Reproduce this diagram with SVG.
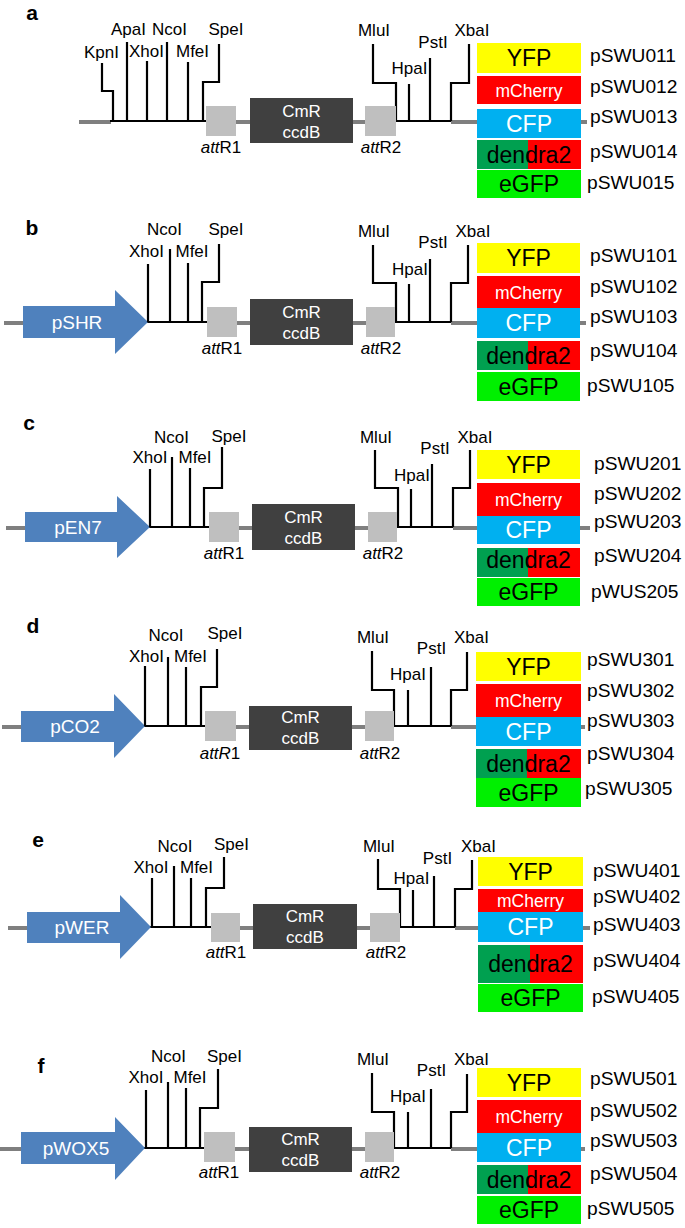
<svg xmlns="http://www.w3.org/2000/svg" width="685" height="1228" viewBox="0 0 685 1228">
<style>
text{font-family:"Liberation Sans",Arial,sans-serif;}
.pl{font-size:21px;font-weight:bold;text-anchor:middle;fill:#000;}
.bb{stroke:#7f7f7f;stroke-width:4;fill:none;}
.bk{stroke:#000;stroke-width:2.2;fill:none;}
.enz{font-size:17px;text-anchor:middle;fill:#000;}
.att{font-size:17px;text-anchor:middle;fill:#000;}
.attbox{fill:#bfbfbf;}
.cmr{fill:#404040;}
.cmrt{font-size:17px;text-anchor:middle;fill:#fff;}
.arrow{fill:#4f81bd;}
.prom{font-size:19px;text-anchor:middle;fill:#fff;}
.yfp{fill:#ffff00;}
.mch{fill:#ff0000;}
.cfp{fill:#00b0f0;}
.dgr{fill:#00a050;}
.egfp{fill:#00f000;}
.fb{font-size:23px;text-anchor:middle;fill:#000;}
.fw{font-size:23px;text-anchor:middle;fill:#fff;}
.fm{font-size:17.5px;text-anchor:middle;fill:#fff;}
.pn{font-size:19.2px;fill:#000;}
</style>

<!-- ===================== PANEL A ===================== -->
<g id="panel-a">
<text class="pl" x="32" y="20">a</text>
<g id="a-connectors">
<line class="bb" x1="79" y1="122" x2="111" y2="122"/>
<line class="bb" x1="236" y1="122" x2="250" y2="122"/>
<line class="bb" x1="353" y1="122" x2="365" y2="122"/>
<line class="bb" x1="451" y1="122" x2="477" y2="122"/>
<line class="bb" x1="581" y1="122" x2="587" y2="122"/>
<line class="bk" x1="110" y1="121" x2="206" y2="121"/>
<line class="bk" x1="396" y1="121" x2="451" y2="121"/>
</g>
<g id="a-sites">
<path class="bk" d="M113,121V91H102V63"/>
<path class="bk" d="M127,121V42"/>
<path class="bk" d="M147,121V61"/>
<path class="bk" d="M167,121V42"/>
<path class="bk" d="M188,121V62"/>
<path class="bk" d="M203,121V82H219V44"/>
<path class="bk" d="M396,121V83H373V44"/>
<path class="bk" d="M409,121V84"/>
<path class="bk" d="M430,121V58"/>
<path class="bk" d="M451,121V83H469V44"/>
<text class="enz" x="101.5" y="58">KpnI</text>
<text class="enz" x="128.5" y="35">ApaI</text>
<text class="enz" x="146.5" y="57">XhoI</text>
<text class="enz" x="169.5" y="35">NcoI</text>
<text class="enz" x="192.5" y="57">MfeI</text>
<text class="enz" x="226" y="35">SpeI</text>
<text class="enz" x="374" y="36">MluI</text>
<text class="enz" x="409.5" y="74">HpaI</text>
<text class="enz" x="433" y="48">PstI</text>
<text class="enz" x="472" y="36">XbaI</text>
</g>
<g id="a-attR1"><rect class="attbox" x="206" y="106" width="30" height="30"/><text class="att" x="221" y="153"><tspan font-style="italic">att</tspan>R1</text></g>
<g id="a-cmr"><rect class="cmr" x="250" y="98" width="103" height="45"/><text class="cmrt" x="301.5" y="117">CmR</text><text class="cmrt" x="301.5" y="138">ccdB</text></g>
<g id="a-attR2"><rect class="attbox" x="365" y="106" width="31" height="30"/><text class="att" x="381" y="153"><tspan font-style="italic">att</tspan>R2</text></g>
<g id="a-fp">
<rect class="yfp" x="477" y="43" width="104" height="30"/><text class="fb" x="529" y="66">YFP</text>
<rect class="mch" x="477" y="76" width="104" height="28"/><text class="fm" x="529" y="97">mCherry</text>
<rect class="cfp" x="477" y="109" width="104" height="29"/><text class="fw" x="529" y="132">CFP</text>
<rect class="dgr" x="477" y="140" width="51" height="29"/><rect class="mch" x="528" y="140" width="53" height="29"/><text class="fb" x="529" y="163">dendra2</text>
<rect class="egfp" x="477" y="170" width="104" height="28"/><text class="fb" x="529" y="192">eGFP</text>
<text class="pn" x="590" y="62">pSWU011</text>
<text class="pn" x="590" y="93">pSWU012</text>
<text class="pn" x="590" y="123">pSWU013</text>
<text class="pn" x="590" y="158">pSWU014</text>
<text class="pn" x="587" y="189">pSWU015</text>
</g>
</g>

<!-- ===================== PANEL B ===================== -->
<g id="panel-b">
<text class="pl" x="32" y="235">b</text>
<g id="b-connectors">
<line class="bb" x1="4" y1="323" x2="24" y2="323"/>
<line class="bb" x1="237" y1="323" x2="250" y2="323"/>
<line class="bb" x1="353" y1="323" x2="366" y2="323"/>
<line class="bb" x1="451" y1="323" x2="477" y2="323"/>
<line class="bb" x1="580" y1="323" x2="586" y2="323"/>
<line class="bk" x1="147" y1="322" x2="207" y2="322"/>
<line class="bk" x1="395" y1="322" x2="451" y2="322"/>
</g>
<g id="b-promoter"><polygon class="arrow" points="23,306 115,306 115,290 148,322 115,354 115,338 23,338"/><text class="prom" x="77" y="329">pSHR</text></g>
<g id="b-sites">
<path class="bk" d="M148,322V264"/>
<path class="bk" d="M170,322V249"/>
<path class="bk" d="M188,322V263"/>
<path class="bk" d="M202,322V282H219V244"/>
<path class="bk" d="M396,322V283H373V245"/>
<path class="bk" d="M409,322V284"/>
<path class="bk" d="M430,322V259"/>
<path class="bk" d="M451,322V283H468V245"/>
<text class="enz" x="146.5" y="257">XhoI</text>
<text class="enz" x="164.5" y="235">NcoI</text>
<text class="enz" x="192" y="257">MfeI</text>
<text class="enz" x="226" y="235">SpeI</text>
<text class="enz" x="374" y="237">MluI</text>
<text class="enz" x="410" y="275">HpaI</text>
<text class="enz" x="433" y="248">PstI</text>
<text class="enz" x="473" y="237">XbaI</text>
</g>
<g id="b-attR1"><rect class="attbox" x="207" y="307" width="30" height="30"/><text class="att" x="222" y="354"><tspan font-style="italic">att</tspan>R1</text></g>
<g id="b-cmr"><rect class="cmr" x="250" y="299" width="103" height="46"/><text class="cmrt" x="301.5" y="318">CmR</text><text class="cmrt" x="301.5" y="339">ccdB</text></g>
<g id="b-attR2"><rect class="attbox" x="366" y="307" width="29" height="30"/><text class="att" x="381" y="354"><tspan font-style="italic">att</tspan>R2</text></g>
<g id="b-fp">
<rect class="yfp" x="477" y="243" width="103" height="30"/><text class="fb" x="528.5" y="266">YFP</text>
<rect class="mch" x="477" y="276" width="103" height="32"/><text class="fm" x="528.5" y="299">mCherry</text>
<rect class="cfp" x="477" y="308" width="103" height="30"/><text class="fw" x="528.5" y="331">CFP</text>
<rect class="dgr" x="477" y="341" width="51" height="29"/><rect class="mch" x="528" y="341" width="52" height="29"/><text class="fb" x="528.5" y="364">dendra2</text>
<rect class="egfp" x="477" y="372" width="103" height="29"/><text class="fb" x="528.5" y="395">eGFP</text>
<text class="pn" x="590" y="262">pSWU101</text>
<text class="pn" x="590" y="293">pSWU102</text>
<text class="pn" x="590" y="323">pSWU103</text>
<text class="pn" x="590" y="357">pSWU104</text>
<text class="pn" x="587" y="392">pSWU105</text>
</g>
</g>

<!-- ===================== PANEL C ===================== -->
<g id="panel-c">
<text class="pl" x="29" y="430">c</text>
<g id="c-connectors">
<line class="bb" x1="6" y1="528" x2="26" y2="528"/>
<line class="bb" x1="239" y1="528" x2="252" y2="528"/>
<line class="bb" x1="355" y1="528" x2="368" y2="528"/>
<line class="bb" x1="453" y1="528" x2="477" y2="528"/>
<line class="bb" x1="580" y1="528" x2="590" y2="528"/>
<line class="bk" x1="149" y1="527" x2="209" y2="527"/>
<line class="bk" x1="397" y1="527" x2="453" y2="527"/>
</g>
<g id="c-promoter"><polygon class="arrow" points="25,512 117,512 117,496 150,527 117,558 117,542 25,542"/><text class="prom" x="78" y="534">pEN7</text></g>
<g id="c-sites">
<path class="bk" d="M150,527V469"/>
<path class="bk" d="M172,527V457"/>
<path class="bk" d="M190,527V468"/>
<path class="bk" d="M204,527V488H222V447"/>
<path class="bk" d="M398,527V488H375V450"/>
<path class="bk" d="M411,527V489"/>
<path class="bk" d="M432,527V464"/>
<path class="bk" d="M453,527V488H470V450"/>
<text class="enz" x="150" y="463">XhoI</text>
<text class="enz" x="171.5" y="443">NcoI</text>
<text class="enz" x="195" y="463">MfeI</text>
<text class="enz" x="229" y="442">SpeI</text>
<text class="enz" x="376" y="443">MluI</text>
<text class="enz" x="412" y="481">HpaI</text>
<text class="enz" x="435" y="454">PstI</text>
<text class="enz" x="475" y="443">XbaI</text>
</g>
<g id="c-attR1"><rect class="attbox" x="209" y="512" width="30" height="30"/><text class="att" x="224" y="559"><tspan font-style="italic">att</tspan>R1</text></g>
<g id="c-cmr"><rect class="cmr" x="252" y="504" width="103" height="46"/><text class="cmrt" x="303.5" y="523">CmR</text><text class="cmrt" x="303.5" y="544">ccdB</text></g>
<g id="c-attR2"><rect class="attbox" x="368" y="512" width="29" height="30"/><text class="att" x="383" y="559"><tspan font-style="italic">att</tspan>R2</text></g>
<g id="c-fp">
<rect class="yfp" x="477" y="450" width="103" height="29"/><text class="fb" x="528.5" y="473">YFP</text>
<rect class="mch" x="477" y="483" width="103" height="33"/><text class="fm" x="528.5" y="506">mCherry</text>
<rect class="cfp" x="477" y="516" width="103" height="28"/><text class="fw" x="528.5" y="538">CFP</text>
<rect class="dgr" x="477" y="548" width="51" height="29"/><rect class="mch" x="528" y="548" width="52" height="29"/><text class="fb" x="528.5" y="568" font-size="17.5">dendra2</text>
<rect class="egfp" x="477" y="578" width="103" height="28"/><text class="fb" x="528.5" y="600">eGFP</text>
<text class="pn" x="594" y="470">pSWU201</text>
<text class="pn" x="594" y="500">pSWU202</text>
<text class="pn" x="594" y="528">pSWU203</text>
<text class="pn" x="594" y="562">pSWU204</text>
<text class="pn" x="591" y="598">pWUS205</text>
</g>
</g>

<!-- ===================== PANEL D ===================== -->
<g id="panel-d">
<text class="pl" x="33" y="633">d</text>
<g id="d-connectors">
<line class="bb" x1="2" y1="727" x2="22" y2="727"/>
<line class="bb" x1="236" y1="727" x2="249" y2="727"/>
<line class="bb" x1="352" y1="727" x2="365" y2="727"/>
<line class="bb" x1="451" y1="727" x2="476" y2="727"/>
<line class="bb" x1="581" y1="727" x2="585" y2="727"/>
<line class="bk" x1="144" y1="726" x2="205" y2="726"/>
<line class="bk" x1="394" y1="726" x2="451" y2="726"/>
</g>
<g id="d-promoter"><polygon class="arrow" points="21,711 114,711 114,694 145,726 114,758 114,742 21,742"/><text class="prom" x="75" y="733">pCO2</text></g>
<g id="d-sites">
<path class="bk" d="M145,726V666"/>
<path class="bk" d="M168,726V657"/>
<path class="bk" d="M186,726V667"/>
<path class="bk" d="M201,726V687H217V649"/>
<path class="bk" d="M394,726V690H372V651"/>
<path class="bk" d="M408,726V690"/>
<path class="bk" d="M431,726V667"/>
<path class="bk" d="M451,726V690H467V652"/>
<text class="enz" x="146.5" y="662">XhoI</text>
<text class="enz" x="166" y="641">NcoI</text>
<text class="enz" x="190.5" y="662">MfeI</text>
<text class="enz" x="225" y="639">SpeI</text>
<text class="enz" x="373" y="643">MluI</text>
<text class="enz" x="408" y="680">HpaI</text>
<text class="enz" x="431.5" y="654">PstI</text>
<text class="enz" x="471.5" y="643">XbaI</text>
</g>
<g id="d-attR1"><rect class="attbox" x="205" y="711" width="31" height="30"/><text class="att" x="220" y="759"><tspan font-style="italic">attR</tspan>1</text></g>
<g id="d-cmr"><rect class="cmr" x="249" y="706" width="103" height="44"/><text class="cmrt" x="300.5" y="723">CmR</text><text class="cmrt" x="300.5" y="744">ccdB</text></g>
<g id="d-attR2"><rect class="attbox" x="365" y="711" width="29" height="30"/><text class="att" x="380" y="759"><tspan font-style="italic">att</tspan>R2</text></g>
<g id="d-fp">
<rect class="yfp" x="476" y="652" width="105" height="29"/><text class="fb" x="528.5" y="675">YFP</text>
<rect class="mch" x="476" y="684" width="105" height="33"/><text class="fm" x="528.5" y="707">mCherry</text>
<rect class="cfp" x="476" y="717" width="105" height="29"/><text class="fw" x="528.5" y="740">CFP</text>
<rect class="dgr" x="476" y="749" width="51" height="29"/><rect class="mch" x="527" y="749" width="54" height="29"/><text class="fb" x="528.5" y="772">dendra2</text>
<rect class="egfp" x="476" y="778" width="105" height="29"/><text class="fb" x="528.5" y="801">eGFP</text>
<text class="pn" x="587" y="666">pSWU301</text>
<text class="pn" x="587" y="697">pSWU302</text>
<text class="pn" x="587" y="727">pSWU303</text>
<text class="pn" x="587" y="760">pSWU304</text>
<text class="pn" x="585" y="795">pSWU305</text>
</g>
</g>

<!-- ===================== PANEL E ===================== -->
<g id="panel-e">
<text class="pl" x="38" y="847">e</text>
<g id="e-connectors">
<line class="bb" x1="8" y1="928" x2="28" y2="928"/>
<line class="bb" x1="240" y1="928" x2="253" y2="928"/>
<line class="bb" x1="357" y1="928" x2="370" y2="928"/>
<line class="bb" x1="455" y1="928" x2="478" y2="928"/>
<line class="bb" x1="583" y1="928" x2="590" y2="928"/>
<line class="bk" x1="150" y1="927" x2="211" y2="927"/>
<line class="bk" x1="400" y1="927" x2="455" y2="927"/>
</g>
<g id="e-promoter"><polygon class="arrow" points="27,912 120,912 120,895 151,927 120,959 120,943 27,943"/><text class="prom" x="82" y="934">pWER</text></g>
<g id="e-sites">
<path class="bk" d="M152,927V878"/>
<path class="bk" d="M174,927V866"/>
<path class="bk" d="M191,927V878"/>
<path class="bk" d="M206,927V888H224V857"/>
<path class="bk" d="M400,927V889H378V859"/>
<path class="bk" d="M413,927V890"/>
<path class="bk" d="M434,927V876"/>
<path class="bk" d="M455,927V889H472V860"/>
<text class="enz" x="151" y="873">XhoI</text>
<text class="enz" x="175" y="852">NcoI</text>
<text class="enz" x="196.5" y="873">MfeI</text>
<text class="enz" x="231.5" y="850">SpeI</text>
<text class="enz" x="379" y="852">MluI</text>
<text class="enz" x="411.5" y="884">HpaI</text>
<text class="enz" x="437.5" y="864">PstI</text>
<text class="enz" x="478.5" y="852">XbaI</text>
</g>
<g id="e-attR1"><rect class="attbox" x="211" y="913" width="29" height="29"/><text class="att" x="226" y="958"><tspan font-style="italic">att</tspan>R1</text></g>
<g id="e-cmr"><rect class="cmr" x="253" y="904" width="104" height="45"/><text class="cmrt" x="305" y="922">CmR</text><text class="cmrt" x="305" y="943">ccdB</text></g>
<g id="e-attR2"><rect class="attbox" x="370" y="913" width="30" height="29"/><text class="att" x="386" y="958"><tspan font-style="italic">att</tspan>R2</text></g>
<g id="e-fp">
<rect class="yfp" x="478" y="857" width="105" height="29"/><text class="fb" x="530.5" y="880">YFP</text>
<rect class="mch" x="478" y="889" width="105" height="23"/><text class="fm" x="530.5" y="907">mCherry</text>
<rect class="cfp" x="478" y="912" width="105" height="30"/><text class="fw" x="530.5" y="935">CFP</text>
<rect class="dgr" x="478" y="945" width="52" height="38"/><rect class="mch" x="530" y="945" width="53" height="38"/><text class="fb" x="530.5" y="972">dendra2</text>
<rect class="egfp" x="478" y="984" width="105" height="28"/><text class="fb" x="530.5" y="1006">eGFP</text>
<text class="pn" x="593" y="877">pSWU401</text>
<text class="pn" x="593" y="903">pSWU402</text>
<text class="pn" x="593" y="931">pSWU403</text>
<text class="pn" x="593" y="967">pSWU404</text>
<text class="pn" x="592" y="1003">pSWU405</text>
</g>
</g>

<!-- ===================== PANEL F ===================== -->
<g id="panel-f">
<text class="pl" x="41" y="1073">f</text>
<g id="f-connectors">
<line class="bb" x1="0" y1="1149" x2="22" y2="1149"/>
<line class="bb" x1="235" y1="1149" x2="249" y2="1149"/>
<line class="bb" x1="352" y1="1149" x2="365" y2="1149"/>
<line class="bb" x1="451" y1="1149" x2="477" y2="1149"/>
<line class="bb" x1="581" y1="1149" x2="585" y2="1149"/>
<line class="bk" x1="144" y1="1148" x2="204" y2="1148"/>
<line class="bk" x1="394" y1="1148" x2="451" y2="1148"/>
</g>
<g id="f-promoter"><polygon class="arrow" points="21,1132 115,1132 115,1117 145,1148 115,1180 115,1164 21,1164"/><text class="prom" x="76" y="1155">pWOX5</text></g>
<g id="f-sites">
<path class="bk" d="M146,1148V1090"/>
<path class="bk" d="M168,1148V1082"/>
<path class="bk" d="M186,1148V1088"/>
<path class="bk" d="M200,1148V1108H218V1069"/>
<path class="bk" d="M394,1148V1112H372V1073"/>
<path class="bk" d="M408,1148V1112"/>
<path class="bk" d="M431,1148V1089"/>
<path class="bk" d="M451,1148V1112H467V1074"/>
<text class="enz" x="146" y="1083">XhoI</text>
<text class="enz" x="168.5" y="1062">NcoI</text>
<text class="enz" x="190" y="1083">MfeI</text>
<text class="enz" x="224.5" y="1062">SpeI</text>
<text class="enz" x="373" y="1065">MluI</text>
<text class="enz" x="408" y="1102">HpaI</text>
<text class="enz" x="431.5" y="1076">PstI</text>
<text class="enz" x="471.5" y="1065">XbaI</text>
</g>
<g id="f-attR1"><rect class="attbox" x="204" y="1132" width="31" height="30"/><text class="att" x="219" y="1178"><tspan font-style="italic">att</tspan>R1</text></g>
<g id="f-cmr"><rect class="cmr" x="249" y="1127" width="103" height="45"/><text class="cmrt" x="300.5" y="1145">CmR</text><text class="cmrt" x="300.5" y="1166">ccdB</text></g>
<g id="f-attR2"><rect class="attbox" x="365" y="1132" width="29" height="30"/><text class="att" x="380" y="1178"><tspan font-style="italic">att</tspan>R2</text></g>
<g id="f-fp">
<rect class="yfp" x="477" y="1068" width="104" height="29"/><text class="fb" x="529" y="1091">YFP</text>
<rect class="mch" x="477" y="1100" width="104" height="33"/><text class="fm" x="529" y="1123">mCherry</text>
<rect class="cfp" x="477" y="1133" width="104" height="29"/><text class="fw" x="529" y="1156">CFP</text>
<rect class="dgr" x="477" y="1165" width="51" height="29"/><rect class="mch" x="528" y="1165" width="53" height="29"/><text class="fb" x="529" y="1188">dendra2</text>
<rect class="egfp" x="477" y="1196" width="104" height="28"/><text class="fb" x="529" y="1218">eGFP</text>
<text class="pn" x="590" y="1085">pSWU501</text>
<text class="pn" x="590" y="1117">pSWU502</text>
<text class="pn" x="590" y="1147">pSWU503</text>
<text class="pn" x="590" y="1180">pSWU504</text>
<text class="pn" x="587" y="1215">pSWU505</text>
</g>
</g>
</svg>
